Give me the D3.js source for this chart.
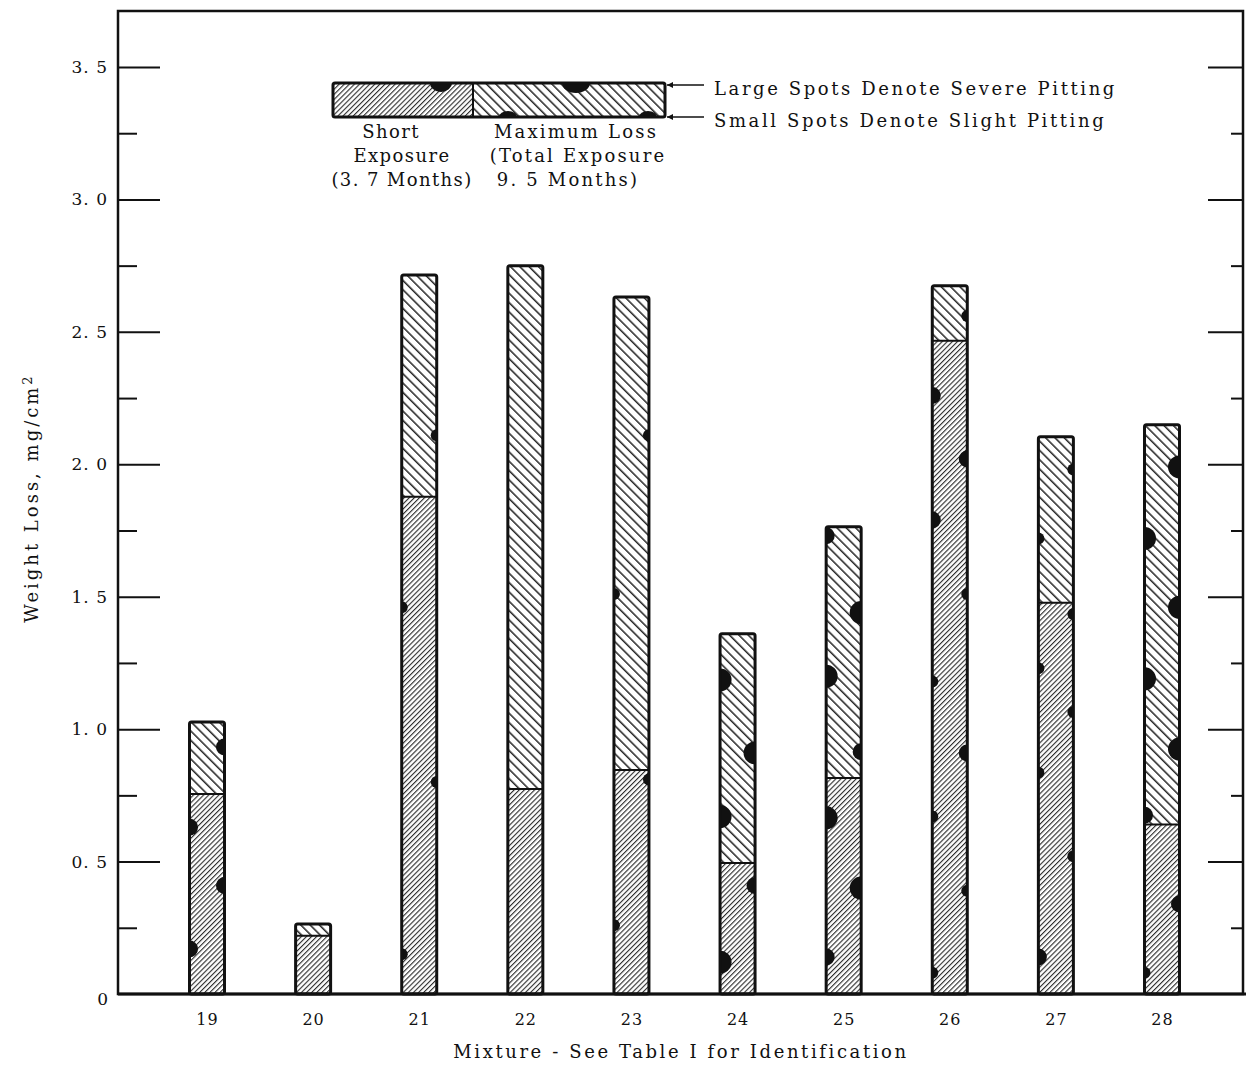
<!DOCTYPE html>
<html>
<head>
<meta charset="utf-8">
<script src="https://cdn.jsdelivr.net/npm/d3@7"></script>
<style>
  body { margin: 0; background: #fff; }
  svg text { font-family: "DejaVu Serif", "Liberation Serif", serif; fill: #111; }
</style>
</head>
<body>
<div id="chart"></div>
<script>
// mixtures and weight loss (mg/cm2)
const mixtures = ["19", "20", "21", "22", "23", "24", "25", "26", "27", "28"];
const shortExposure = [0.755, 0.22, 1.877, 0.774, 0.846, 0.495, 0.816, 2.466, 1.477, 0.64];
const totalExposure = [1.027, 0.264, 2.715, 2.75, 2.632, 1.36, 1.764, 2.674, 2.104, 2.149];

// pitting spots: mixture, value along bar, edge of bar, severity (1 slight .. 3 severe)
const spots = [
  ["19", 0.933, "right", 2], ["19", 0.63, "left", 2], ["19", 0.41, "right", 2], ["19", 0.17, "left", 2],
  ["21", 2.11, "right", 1], ["21", 1.46, "left", 1], ["21", 0.80, "right", 1], ["21", 0.15, "left", 1],
  ["23", 2.11, "right", 1], ["23", 1.51, "left", 1], ["23", 0.81, "right", 1], ["23", 0.26, "left", 1],
  ["24", 1.186, "left", 3], ["24", 0.91, "right", 3], ["24", 0.67, "left", 3], ["24", 0.41, "right", 2], ["24", 0.12, "left", 3],
  ["25", 1.73, "left", 2], ["25", 1.44, "right", 3], ["25", 1.20, "left", 3], ["25", 0.915, "right", 2],
  ["25", 0.665, "left", 3], ["25", 0.40, "right", 3], ["25", 0.14, "left", 2],
  ["26", 2.56, "right", 1], ["26", 2.26, "left", 2], ["26", 2.02, "right", 2], ["26", 1.79, "left", 2],
  ["26", 1.51, "right", 1], ["26", 1.18, "left", 1], ["26", 0.91, "right", 2], ["26", 0.67, "left", 1],
  ["26", 0.39, "right", 1], ["26", 0.08, "left", 1],
  ["27", 1.98, "right", 1], ["27", 1.72, "left", 1], ["27", 1.435, "right", 1], ["27", 1.23, "left", 1],
  ["27", 1.065, "right", 1], ["27", 0.835, "left", 1], ["27", 0.52, "right", 1], ["27", 0.14, "left", 2],
  ["28", 1.99, "right", 3], ["28", 1.72, "left", 3], ["28", 1.46, "right", 3], ["28", 1.19, "left", 3],
  ["28", 0.925, "right", 3], ["28", 0.675, "left", 2], ["28", 0.34, "right", 2], ["28", 0.08, "left", 1]
];

const majorTicks = [0, 0.5, 1.0, 1.5, 2.0, 2.5, 3.0, 3.5];
const minorTicks = [0.25, 0.75, 1.25, 1.75, 2.25, 2.75, 3.25];

const legendLabels = {
  short: ["Short", "Exposure", "(3. 7 Months)"],
  total: ["Maximum Loss", "(Total Exposure", "9. 5 Months)"],
  spots: ["Large Spots Denote Severe Pitting", "Small Spots Denote Slight Pitting"]
};

const W = 1246, H = 1068;
const frame = {left: 118, right: 1243, top: 11, bottom: 994};

const svg = d3.select("#chart").append("svg")
  .attr("width", W).attr("height", H);

const defs = svg.append("defs");
// short exposure hatch "/"
defs.append("pattern")
  .attr("id", "hatchShort")
  .attr("patternUnits", "userSpaceOnUse")
  .attr("width", 3.6).attr("height", 10)
  .attr("patternTransform", "rotate(45)")
  .append("line")
    .attr("x1", 0.6).attr("x2", 0.6).attr("y1", 0).attr("y2", 10)
    .attr("stroke", "#111").attr("stroke-width", 1);
// total exposure hatch "\"
defs.append("pattern")
  .attr("id", "hatchTotal")
  .attr("patternUnits", "userSpaceOnUse")
  .attr("width", 6.6).attr("height", 10)
  .attr("patternTransform", "rotate(-45)")
  .append("line")
    .attr("x1", 0.8).attr("x2", 0.8).attr("y1", 0).attr("y2", 10)
    .attr("stroke", "#111").attr("stroke-width", 1.4);

const x = d3.scalePoint().domain(mixtures).range([207, 1162]);
const y = d3.scaleLinear().domain([0, 3.5]).range([frame.bottom, 67]);
const r = d3.scaleOrdinal().domain([1, 2, 3]).range([6, 8.5, 11.5]);
const barW = 35;

// frame
svg.append("rect")
  .attr("x", frame.left).attr("y", frame.top)
  .attr("width", frame.right - frame.left).attr("height", frame.bottom - frame.top)
  .attr("fill", "none").attr("stroke", "#111").attr("stroke-width", 2.5);

// y axes with inward ticks
const fmt = d => d === 0 ? "0" : d.toFixed(1).replace(".", ". ");
const yl = svg.append("g").attr("transform", `translate(${frame.left},0)`)
  .call(d3.axisLeft(y).tickValues(majorTicks.slice(1)).tickSizeInner(-42).tickSizeOuter(0).tickPadding(10).tickFormat(fmt));
svg.append("g").attr("transform", `translate(${frame.left},0)`)
  .call(d3.axisLeft(y).tickValues(minorTicks).tickSizeInner(-19).tickSizeOuter(0).tickFormat(""));
svg.append("g").attr("transform", `translate(${frame.right},0)`)
  .call(d3.axisRight(y).tickValues(majorTicks.slice(1)).tickSizeInner(-35).tickSizeOuter(0).tickFormat(""));
svg.append("g").attr("transform", `translate(${frame.right},0)`)
  .call(d3.axisRight(y).tickValues(minorTicks).tickSizeInner(-12).tickSizeOuter(0).tickFormat(""));
svg.selectAll(".domain").remove();
svg.selectAll(".tick line").attr("stroke", "#111").attr("stroke-width", 2);
yl.selectAll("text").style("font-size", "17px").attr("letter-spacing", "1");
// zero label
svg.append("text")
  .attr("x", frame.left - 10).attr("y", y(0) + 6)
  .attr("text-anchor", "end").attr("dy", "0.32em")
  .style("font-size", "17px").text(fmt(0));

// x axis
const xa = svg.append("g").attr("transform", `translate(0,${frame.bottom})`)
  .call(d3.axisBottom(x).tickSize(0).tickPadding(20));
xa.select(".domain").remove();
xa.selectAll("text").style("font-size", "16px").attr("letter-spacing", "1");
svg.append("line")
  .attr("x1", frame.left).attr("x2", W)
  .attr("y1", frame.bottom).attr("y2", frame.bottom)
  .attr("stroke", "#111").attr("stroke-width", 3);

// bars
const bars = svg.append("g").selectAll("g").data(mixtures).join("g");
bars.each(function (m, i) {
  const g = d3.select(this);
  const x0 = x(m) - barW / 2;
  const clipId = "clip" + m;
  defs.append("clipPath").attr("id", clipId)
    .append("rect").attr("x", x0).attr("y", y(totalExposure[i]))
    .attr("width", barW).attr("height", y(0) - y(totalExposure[i]));
  g.append("rect")
    .attr("x", x0).attr("y", y(totalExposure[i]))
    .attr("width", barW).attr("height", y(shortExposure[i]) - y(totalExposure[i]))
    .attr("fill", "url(#hatchTotal)");
  g.append("rect")
    .attr("x", x0).attr("y", y(shortExposure[i]))
    .attr("width", barW).attr("height", y(0) - y(shortExposure[i]))
    .attr("fill", "url(#hatchShort)");
  g.append("g").attr("clip-path", `url(#${clipId})`)
    .selectAll("circle")
    .data(spots.filter(s => s[0] === m))
    .join("circle")
      .attr("cx", s => s[2] === "left" ? x0 : x0 + barW)
      .attr("cy", s => y(s[1]))
      .attr("r", s => r(s[3]))
      .attr("fill", "#111");
  g.append("line")
    .attr("x1", x0).attr("x2", x0 + barW)
    .attr("y1", y(shortExposure[i])).attr("y2", y(shortExposure[i]))
    .attr("stroke", "#111").attr("stroke-width", 2);
  g.append("rect")
    .attr("x", x0).attr("y", y(totalExposure[i]))
    .attr("width", barW).attr("height", y(0) - y(totalExposure[i]))
    .attr("rx", 2)
    .attr("fill", "none").attr("stroke", "#111").attr("stroke-width", 3);
});

// legend
const lg = svg.append("g");
const L = {x0: 333, xm: 473, x1: 665, y0: 83, y1: 117};
defs.append("clipPath").attr("id", "clipLegend")
  .append("rect").attr("x", L.x0).attr("y", L.y0).attr("width", L.x1 - L.x0).attr("height", L.y1 - L.y0);
lg.append("rect").attr("x", L.x0).attr("y", L.y0).attr("width", L.xm - L.x0).attr("height", L.y1 - L.y0)
  .attr("fill", "url(#hatchShort)");
lg.append("rect").attr("x", L.xm).attr("y", L.y0).attr("width", L.x1 - L.xm).attr("height", L.y1 - L.y0)
  .attr("fill", "url(#hatchTotal)");
const lspots = lg.append("g").attr("clip-path", "url(#clipLegend)");
[[441, L.y0, 11, 9], [576, L.y0, 14, 10], [508, L.y1, 9, 6], [648, L.y1, 9, 6]].forEach(e => {
  lspots.append("ellipse").attr("cx", e[0]).attr("cy", e[1]).attr("rx", e[2]).attr("ry", e[3]).attr("fill", "#111");
});
lg.append("line").attr("x1", L.xm).attr("x2", L.xm).attr("y1", L.y0).attr("y2", L.y1)
  .attr("stroke", "#111").attr("stroke-width", 2);
lg.append("rect").attr("x", L.x0).attr("y", L.y0).attr("width", L.x1 - L.x0).attr("height", L.y1 - L.y0)
  .attr("rx", 2).attr("fill", "none").attr("stroke", "#111").attr("stroke-width", 3);

defs.append("marker").attr("id", "arrowHead")
  .attr("viewBox", "0 0 10 10").attr("refX", 10).attr("refY", 5)
  .attr("markerWidth", 9).attr("markerHeight", 6).attr("markerUnits", "userSpaceOnUse")
  .attr("orient", "auto")
  .append("path").attr("d", "M0,0L10,5L0,10Z").attr("fill", "#111");
[L.y0 + 2, L.y1].forEach((yy, k) => {
  lg.append("line").attr("x1", 704).attr("x2", L.x1 + 2).attr("y1", yy).attr("y2", yy)
    .attr("stroke", "#111").attr("stroke-width", 1.5).attr("marker-end", "url(#arrowHead)");
  lg.append("text").attr("x", 714).attr("y", yy + 10)
    .style("font-size", "18px").attr("letter-spacing", "2.6")
    .text(legendLabels.spots[k]);
});
legendLabels.short.forEach((t, k) => {
  const cx = [391, 402, 402][k];
  lg.append("text").attr("x", cx).attr("y", 138 + k * 24).attr("text-anchor", "middle")
    .style("font-size", "18px").attr("letter-spacing", "1.4").text(t);
});
legendLabels.total.forEach((t, k) => {
  const cx = [576, 578, 568][k];
  lg.append("text").attr("x", cx).attr("y", 138 + k * 24).attr("text-anchor", "middle")
    .style("font-size", "18px").attr("letter-spacing", "2.2").text(t);
});

// axis titles
svg.append("text")
  .attr("x", 681).attr("y", 1058).attr("text-anchor", "middle")
  .style("font-size", "18px").attr("letter-spacing", "2.6")
  .text("Mixture - See Table I for Identification");
const yt = svg.append("text")
  .attr("transform", "translate(38,498) rotate(-90)")
  .attr("text-anchor", "middle")
  .style("font-size", "18px").attr("letter-spacing", "3");
yt.append("tspan").text("Weight Loss,  mg/cm");
yt.append("tspan").attr("dy", "-0.5em").style("font-size", "13px").text("2");
</script>
</body>
</html>
